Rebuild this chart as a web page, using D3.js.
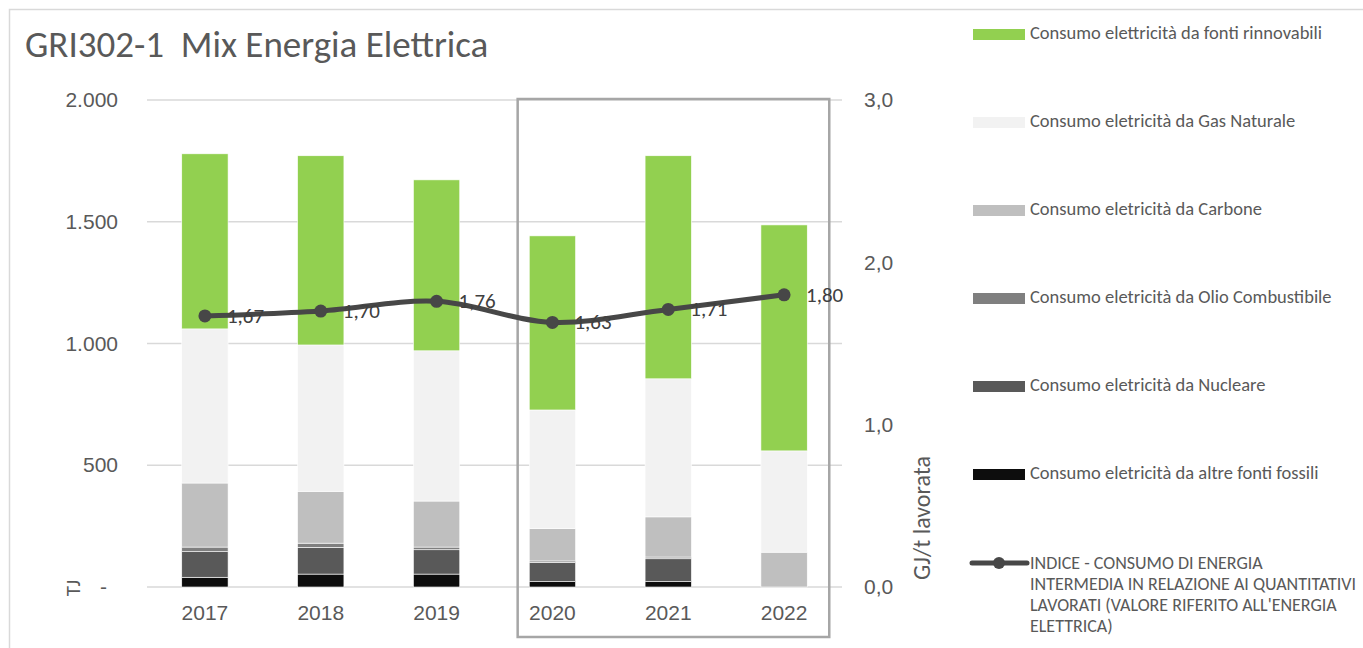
<!DOCTYPE html>
<html>
<head>
<meta charset="utf-8">
<script src="https://cdn.jsdelivr.net/npm/d3@7"></script>
<style>
  html, body { margin: 0; padding: 0; background: #fff; overflow: hidden; }
  svg { display: block; font-family: Calibri, Carlito, Lato, sans-serif; }
  .pre { white-space: pre; }
</style>
</head>
<body>
<svg id="chart" width="1363" height="648"></svg>
<script>
// ---- data ----
const years = ["2017", "2018", "2019", "2020", "2021", "2022"];
const altreFossili = [40, 53, 53, 22, 22, 0];
const nucleare = [105, 110, 100, 79, 94, 0];
const olio = [19, 17, 11, 6, 7, 0];
const carbone = [263, 213, 189, 133, 165, 143];
const gasNaturale = [633, 601, 617, 487, 567, 416];
const rinnovabili = [719, 777, 702, 715, 916, 928];
const indice = [1.67, 1.70, 1.76, 1.63, 1.71, 1.80];
const leftTicks = [0, 500, 1000, 1500, 2000];
const leftTickLabels = ["-", "500", "1.000", "1.500", "2.000"];
const rightTicks = [0, 1, 2, 3];
const rightTickLabels = ["0,0", "1,0", "2,0", "3,0"];
const seriesNames = [
  "Consumo eletricità da altre fonti fossili",
  "Consumo eletricità da Nucleare",
  "Consumo eletricità da Olio Combustibile",
  "Consumo eletricità da Carbone",
  "Consumo eletricità da Gas Naturale",
  "Consumo elettricità da fonti rinnovabili"
];
const lineNameLines = ["INDICE - CONSUMO DI ENERGIA", "INTERMEDIA IN RELAZIONE AI QUANTITATIVI", "LAVORATI (VALORE RIFERITO ALL'ENERGIA", "ELETTRICA)"];
const title = "GRI302-1  Mix Energia Elettrica";

// ---- styling ----
const colors = ["#0d0d0d", "#595959", "#7f7f7f", "#bfbfbf", "#f2f2f2", "#92d050"];
const textColor = "#595959";
const lineColor = "#474747";

const svg = d3.select("#chart");
const W = 1363, H = 648;
const plot = { left: 147, right: 842, top: 100, bottom: 587 };

// outer chart border
svg.append("rect").attr("x", 9.5).attr("y", 9.5).attr("width", W).attr("height", H)
  .attr("fill", "none").attr("stroke", "#d9d9d9").attr("stroke-width", 1.5);

// title
svg.append("text").attr("class", "pre").attr("x", 25).attr("y", 57).text(title)
  .attr("fill", textColor).attr("font-size", 37);

const x = d3.scaleBand().domain(years).range([plot.left, plot.right]).paddingInner(0.6).paddingOuter(0.3);
const yL = d3.scaleLinear().domain([0, 2000]).range([plot.bottom, plot.top]);
const yR = d3.scaleLinear().domain([0, 3]).range([plot.bottom, plot.top]);

// gridlines
svg.append("g").selectAll("line").data(leftTicks).join("line")
  .attr("x1", plot.left).attr("x2", plot.right)
  .attr("y1", d => yL(d)).attr("y2", d => yL(d))
  .attr("stroke", "#d9d9d9").attr("stroke-width", 1.5);

// left axis labels
const leftAxis = d3.axisLeft(yL).tickValues(leftTicks).tickFormat((d, i) => leftTickLabels[i]).tickSize(0).tickPadding(0);
const gL = svg.append("g").attr("transform", `translate(118,0)`).call(leftAxis);
gL.select(".domain").remove();
gL.selectAll("text").attr("fill", textColor).attr("font-size", 21).attr("font-family", null)
  .attr("dx", d => d === 0 ? -11 : 0);

// right axis labels
const rightAxis = d3.axisRight(yR).tickValues(rightTicks).tickFormat((d, i) => rightTickLabels[i]).tickSize(0).tickPadding(0);
const gR = svg.append("g").attr("transform", `translate(864,0)`).call(rightAxis);
gR.select(".domain").remove();
gR.selectAll("text").attr("fill", textColor).attr("font-size", 21).attr("font-family", null);

// x axis labels
const xAxis = d3.axisBottom(x).tickSize(0).tickPadding(0);
const gX = svg.append("g").attr("transform", `translate(0,605)`).call(xAxis);
gX.select(".domain").remove();
gX.selectAll("text").attr("fill", textColor).attr("font-size", 21).attr("font-family", null);

// axis titles
svg.append("text").attr("transform", "translate(80,588) rotate(-90)")
  .attr("text-anchor", "middle").attr("fill", textColor).attr("font-size", 21).text("TJ");
svg.append("text").attr("transform", "translate(930,518) rotate(-90)")
  .attr("text-anchor", "middle").attr("fill", textColor).attr("font-size", 24).text("GJ/t lavorata");

// stacked bars
const seriesArrays = [altreFossili, nucleare, olio, carbone, gasNaturale, rinnovabili];
const table = years.map((yr, i) => {
  const o = { year: yr };
  seriesArrays.forEach((arr, k) => o["s" + k] = arr[i]);
  return o;
});
const keys = seriesArrays.map((_, k) => "s" + k);
const stack = d3.stack().keys(keys)(table);
svg.append("g").selectAll("g").data(stack).join("g")
  .attr("fill", (d, k) => colors[k])
  .selectAll("rect").data(d => d).join("rect")
  .attr("x", d => x(d.data.year))
  .attr("width", x.bandwidth())
  .attr("y", d => yL(d[1]))
  .attr("height", d => Math.max(0, yL(d[0]) - yL(d[1])))
  .attr("stroke", "#ffffff").attr("stroke-width", d => (d[1] - d[0]) > 0 ? 0.6 : 0);

// highlight box around 2020-2022
const bx0 = x("2020") - x.step() * 0.1;
const bx1 = x("2022") + x.bandwidth() + x.step() * 0.19;
svg.append("rect").attr("x", bx0).attr("y", 99).attr("width", bx1 - bx0).attr("height", 637 - 99)
  .attr("fill", "none").attr("stroke", "#a6a6a6").attr("stroke-width", 2.5);

// line
const cx = d => x(d) + x.bandwidth() / 2;
const line = d3.line().x((d, i) => cx(years[i])).y(d => yR(d)).curve(d3.curveCardinal.tension(0));
svg.append("path").datum(indice).attr("d", line)
  .attr("fill", "none").attr("stroke", lineColor).attr("stroke-width", 5).attr("stroke-linejoin", "round");
svg.append("g").selectAll("circle").data(indice).join("circle")
  .attr("cx", (d, i) => cx(years[i])).attr("cy", d => yR(d)).attr("r", 6.5).attr("fill", lineColor);
svg.append("g").selectAll("text").data(indice).join("text")
  .attr("x", (d, i) => cx(years[i]) + 22).attr("y", d => yR(d) + 2)
  .attr("dominant-baseline", "middle").attr("fill", "#404040").attr("font-size", 21)
  .text(d => d3.format(".2f")(d).replace(".", ","));

// legend
const legendOrder = [5, 4, 3, 2, 1, 0];
const lg = svg.append("g");
legendOrder.forEach((k, j) => {
  const yy = 34.5 + j * 88;
  lg.append("rect").attr("x", 973).attr("y", yy - 5.5).attr("width", 52).attr("height", 11).attr("fill", colors[k]);
  lg.append("text").attr("x", 1030).attr("y", yy).attr("dominant-baseline", "middle")
    .attr("fill", textColor).attr("font-size", 18.5).text(seriesNames[k]);
});
const ly = 563;
lg.append("line").attr("x1", 972).attr("x2", 1027).attr("y1", ly).attr("y2", ly)
  .attr("stroke", lineColor).attr("stroke-width", 5).attr("stroke-linecap", "round");
lg.append("circle").attr("cx", 999).attr("cy", ly).attr("r", 6).attr("fill", lineColor);
const lt = lg.append("text").attr("fill", textColor).attr("font-size", 18);
lineNameLines.forEach((s, i) => {
  lt.append("tspan").attr("x", 1030).attr("y", 568.5 + i * 21).text(s);
});
</script>
</body>
</html>
